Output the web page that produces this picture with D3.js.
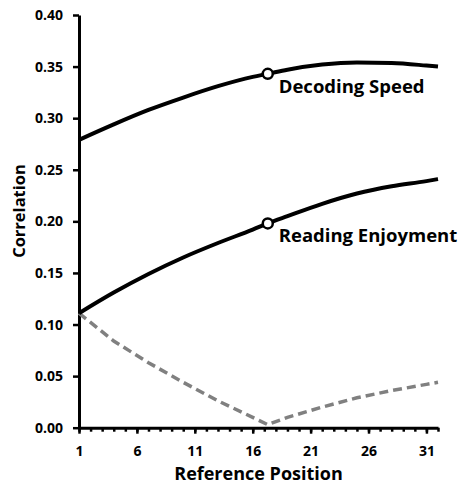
<!DOCTYPE html>
<html>
<head>
<meta charset="utf-8">
<script src="https://cdn.jsdelivr.net/npm/d3@7"></script>
<style>
  body { margin: 0; background: #fff; }
  svg { display: block; font-family: "Open Sans", sans-serif; font-weight: bold; }
</style>
</head>
<body>
<svg width="461" height="487"></svg>
<script>
const positions = [1, 4, 7, 10, 13, 16, 17.3, 19, 22, 25, 28, 31, 32];
const decodingSpeed = [0.279, 0.294, 0.308, 0.320, 0.331, 0.340, 0.343, 0.347, 0.352, 0.354, 0.3535, 0.351, 0.350];
const readingEnjoyment = [0.111, 0.131, 0.149, 0.165, 0.179, 0.192, 0.198, 0.205, 0.217, 0.227, 0.234, 0.239, 0.241];
const difference = [0.111, 0.084, 0.063, 0.044, 0.026, 0.010, 0.003, 0.010, 0.020, 0.029, 0.036, 0.042, 0.044];

const markerPos = 17.3;
const xTicks = [1, 6, 11, 16, 21, 26, 31];
const yTicks = [0, 0.05, 0.1, 0.15, 0.2, 0.25, 0.3, 0.35, 0.4];

const svg = d3.select("svg");

const x = d3.scaleLinear().domain([1, 32]).range([79, 438]);
const y = d3.scaleLinear().domain([0, 0.4]).range([427.7, 15]);

// y axis
svg.append("g")
  .attr("transform", `translate(${x(1)},0)`)
  .call(d3.axisLeft(y).tickValues(yTicks).tickFormat(d3.format(".2f"))
    .tickSize(6).tickSizeOuter(0).tickPadding(10));

// minor x ticks (every position)
svg.append("g")
  .attr("transform", `translate(0,${y(0)})`)
  .call(d3.axisBottom(x).tickValues(d3.range(1, 33)).tickFormat("")
    .tickSize(4).tickSizeOuter(0))
  .call((g) => g.select(".domain").remove());

svg.append("g")
  .attr("transform", `translate(0,${y(0)})`)
  .call(d3.axisBottom(x).tickValues(xTicks).tickFormat(d3.format("d"))
    .tickSize(6).tickSizeOuter(0).tickPadding(12));

svg.selectAll(".domain").attr("stroke", "#000").attr("stroke-width", 3);
svg.selectAll(".tick line").attr("stroke", "#000").attr("stroke-width", 2.5);
svg.selectAll(".tick text")
  .attr("fill", "#000")
  .style("font-family", "'Open Sans', sans-serif")
  .style("font-weight", "bold")
  .style("font-size", "14px");

// axis titles
svg.append("text")
  .attr("x", (x(1) + x(32)) / 2)
  .attr("y", 480)
  .attr("text-anchor", "middle")
  .style("font-size", "18px")
  .text("Reference Position");

svg.append("text")
  .attr("transform", "translate(25,211) rotate(-90)")
  .attr("text-anchor", "middle")
  .style("font-size", "16.5px")
  .text("Correlation");

// lines
const series = [
  { values: difference, color: "#808080", width: 3.5, dash: "9,5", curve: d3.curveLinear },
  { values: readingEnjoyment, color: "#000", width: 4, dash: null, curve: d3.curveMonotoneX },
  { values: decodingSpeed, color: "#000", width: 4, dash: null, curve: d3.curveMonotoneX },
];

series.forEach((s) => {
  const line = d3.line()
    .x((d, i) => x(positions[i]))
    .y((d) => y(d))
    .curve(s.curve);
  svg.append("path")
    .datum(s.values)
    .attr("d", line)
    .attr("fill", "none")
    .attr("stroke", s.color)
    .attr("stroke-width", s.width)
    .attr("stroke-dasharray", s.dash);
});

// markers and labels
const labels = [
  { name: "Decoding Speed", values: decodingSpeed },
  { name: "Reading Enjoyment", values: readingEnjoyment },
];
const mi = positions.indexOf(markerPos);

svg.selectAll("circle.marker")
  .data(labels)
  .join("circle")
  .attr("class", "marker")
  .attr("cx", x(markerPos))
  .attr("cy", (d) => y(d.values[mi]))
  .attr("r", 5)
  .attr("fill", "#fff")
  .attr("stroke", "#000")
  .attr("stroke-width", 2.5);

svg.selectAll("text.label")
  .data(labels)
  .join("text")
  .attr("class", "label")
  .attr("x", x(markerPos) + 11)
  .attr("y", (d) => y(d.values[mi]) + 19)
  .style("font-size", "18.5px")
  .text((d) => d.name);
</script>
</body>
</html>
